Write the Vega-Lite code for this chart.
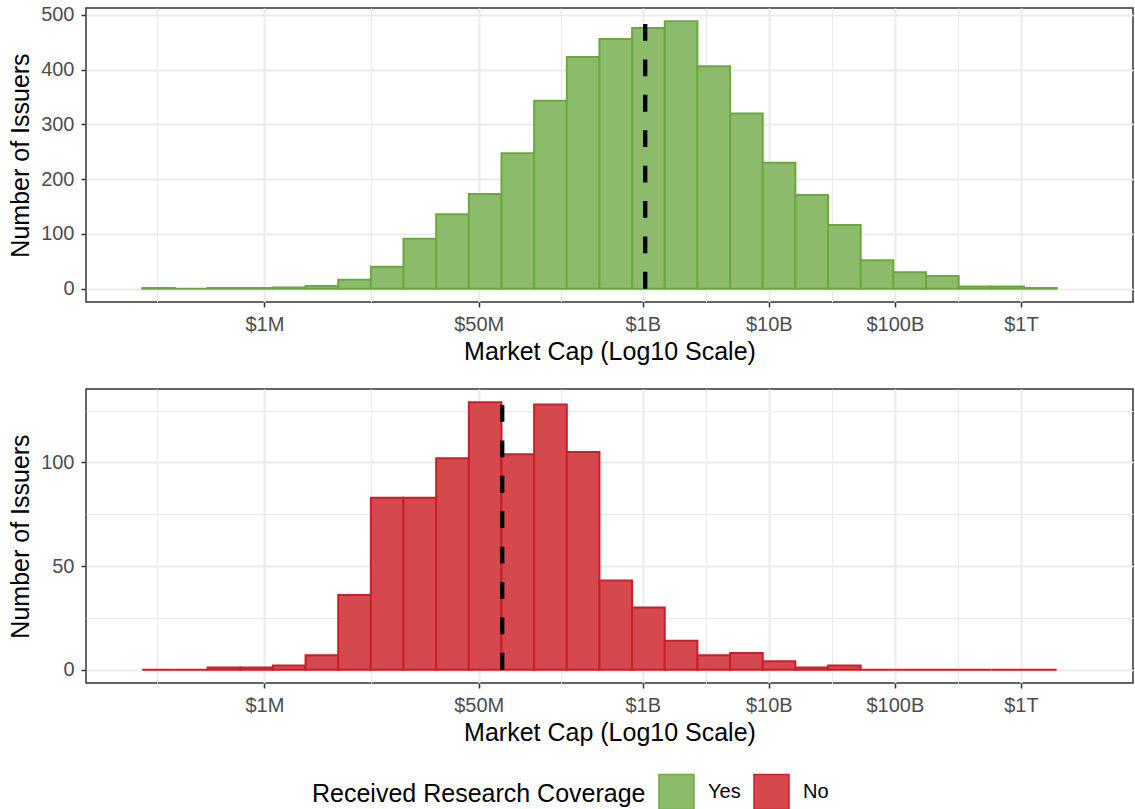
{
  "$schema": "https://vega.github.io/schema/vega-lite/v6.json",
  "padding": {"left": 7, "top": 4, "right": 0, "bottom": 0},
  "background": "white",
  "config": {
    "font": "Liberation Sans",
    "view": {"stroke": "#333333", "strokeWidth": 1.5},
    "axis": {
      "labelFontSize": 20,
      "labelColor": "#4D4D4D",
      "titleFontSize": 25,
      "titleFontWeight": "normal",
      "titleColor": "#000000",
      "tickColor": "#333333",
      "tickSize": 5,
      "tickWidth": 1.5,
      "domain": false,
      "gridColor": "#EBEBEB",
      "labelOverlap": false,
      "labelFlush": false,
      "labelBound": false
    },
    "axisX": {"labelPadding": 7, "titlePadding": 5},
    "axisY": {"labelPadding": 7, "titlePadding": 7}
  },
  "datasets": {
    "bins": [
      {"coverage": "Yes", "x0": 5.031, "x1": 5.290, "n": 1},
      {"coverage": "Yes", "x0": 5.290, "x1": 5.549, "n": 0},
      {"coverage": "Yes", "x0": 5.549, "x1": 5.808, "n": 1},
      {"coverage": "Yes", "x0": 5.808, "x1": 6.067, "n": 1},
      {"coverage": "Yes", "x0": 6.067, "x1": 6.326, "n": 2},
      {"coverage": "Yes", "x0": 6.326, "x1": 6.585, "n": 5},
      {"coverage": "Yes", "x0": 6.585, "x1": 6.844, "n": 16},
      {"coverage": "Yes", "x0": 6.844, "x1": 7.103, "n": 40},
      {"coverage": "Yes", "x0": 7.103, "x1": 7.362, "n": 91},
      {"coverage": "Yes", "x0": 7.362, "x1": 7.621, "n": 136},
      {"coverage": "Yes", "x0": 7.621, "x1": 7.880, "n": 173},
      {"coverage": "Yes", "x0": 7.880, "x1": 8.139, "n": 247},
      {"coverage": "Yes", "x0": 8.139, "x1": 8.398, "n": 343},
      {"coverage": "Yes", "x0": 8.398, "x1": 8.657, "n": 423},
      {"coverage": "Yes", "x0": 8.657, "x1": 8.916, "n": 456},
      {"coverage": "Yes", "x0": 8.916, "x1": 9.175, "n": 476},
      {"coverage": "Yes", "x0": 9.175, "x1": 9.434, "n": 488},
      {"coverage": "Yes", "x0": 9.434, "x1": 9.693, "n": 406},
      {"coverage": "Yes", "x0": 9.693, "x1": 9.952, "n": 320},
      {"coverage": "Yes", "x0": 9.952, "x1": 10.211, "n": 230},
      {"coverage": "Yes", "x0": 10.211, "x1": 10.470, "n": 171},
      {"coverage": "Yes", "x0": 10.470, "x1": 10.729, "n": 116},
      {"coverage": "Yes", "x0": 10.729, "x1": 10.988, "n": 52},
      {"coverage": "Yes", "x0": 10.988, "x1": 11.247, "n": 30},
      {"coverage": "Yes", "x0": 11.247, "x1": 11.506, "n": 23},
      {"coverage": "Yes", "x0": 11.506, "x1": 11.765, "n": 4},
      {"coverage": "Yes", "x0": 11.765, "x1": 12.024, "n": 4},
      {"coverage": "Yes", "x0": 12.024, "x1": 12.283, "n": 1},
      {"coverage": "No", "x0": 5.031, "x1": 5.290, "n": 0},
      {"coverage": "No", "x0": 5.290, "x1": 5.549, "n": 0},
      {"coverage": "No", "x0": 5.549, "x1": 5.808, "n": 1},
      {"coverage": "No", "x0": 5.808, "x1": 6.067, "n": 1},
      {"coverage": "No", "x0": 6.067, "x1": 6.326, "n": 2},
      {"coverage": "No", "x0": 6.326, "x1": 6.585, "n": 7},
      {"coverage": "No", "x0": 6.585, "x1": 6.844, "n": 36},
      {"coverage": "No", "x0": 6.844, "x1": 7.103, "n": 83},
      {"coverage": "No", "x0": 7.103, "x1": 7.362, "n": 83},
      {"coverage": "No", "x0": 7.362, "x1": 7.621, "n": 102},
      {"coverage": "No", "x0": 7.621, "x1": 7.880, "n": 129},
      {"coverage": "No", "x0": 7.880, "x1": 8.139, "n": 104},
      {"coverage": "No", "x0": 8.139, "x1": 8.398, "n": 128},
      {"coverage": "No", "x0": 8.398, "x1": 8.657, "n": 105},
      {"coverage": "No", "x0": 8.657, "x1": 8.916, "n": 43},
      {"coverage": "No", "x0": 8.916, "x1": 9.175, "n": 30},
      {"coverage": "No", "x0": 9.175, "x1": 9.434, "n": 14},
      {"coverage": "No", "x0": 9.434, "x1": 9.693, "n": 7},
      {"coverage": "No", "x0": 9.693, "x1": 9.952, "n": 8},
      {"coverage": "No", "x0": 9.952, "x1": 10.211, "n": 4},
      {"coverage": "No", "x0": 10.211, "x1": 10.470, "n": 1},
      {"coverage": "No", "x0": 10.470, "x1": 10.729, "n": 2},
      {"coverage": "No", "x0": 10.729, "x1": 10.988, "n": 0},
      {"coverage": "No", "x0": 10.988, "x1": 11.247, "n": 0},
      {"coverage": "No", "x0": 11.247, "x1": 11.506, "n": 0},
      {"coverage": "No", "x0": 11.506, "x1": 11.765, "n": 0},
      {"coverage": "No", "x0": 11.765, "x1": 12.024, "n": 0},
      {"coverage": "No", "x0": 12.024, "x1": 12.283, "n": 0}
    ],
    "medians": [
      {"coverage": "Yes", "median": 9.02, "n": 0},
      {"coverage": "Yes", "median": 9.02, "n": 488},
      {"coverage": "No", "median": 7.886, "n": 0},
      {"coverage": "No", "median": 7.886, "n": 129}
    ]
  },
  "resolve": {"scale": {"x": "independent", "y": "independent"}},
  "spacing": 23,
  "vconcat": [
    {
      "width": 1047,
      "height": 294,
      "layer": [
        {
          "data": {"name": "bins"},
          "transform": [{"filter": "datum.coverage == 'Yes'"}],
          "mark": {"type": "bar", "orient": "vertical", "strokeWidth": 2},
          "encoding": {
            "x": {"field": "x0", "type": "quantitative",
              "scale": {"domain": [4.6245, 12.849], "nice": false, "zero": false},
              "axis": {"title": "Market Cap (Log10 Scale)",
                "values": [5.15, 6, 6.849, 7.69897, 8.349, 9, 9.5, 10, 10.5, 11, 11.5, 12],
                "labelExpr": "datum.value == 6 ? '$1M' : datum.value == 7.69897 ? '$50M' : datum.value == 9 ? '$1B' : datum.value == 10 ? '$10B' : datum.value == 11 ? '$100B' : datum.value == 12 ? '$1T' : ''",
                "gridWidth": {"condition": {"test": "indexof([6, 7.69897, 9, 10, 11, 12], datum.value) >= 0", "value": 2}, "value": 1},
                "tickOpacity": {"condition": {"test": "indexof([6, 7.69897, 9, 10, 11, 12], datum.value) >= 0", "value": 1}, "value": 0}}},
            "x2": {"field": "x1"},
            "y": {"field": "n", "type": "quantitative",
              "scale": {"domain": [-24.4, 512.4], "nice": false, "zero": false},
              "axis": {"title": "Number of Issuers",
                "values": [0, 50, 100, 150, 200, 250, 300, 350, 400, 450, 500],
                "labelExpr": "datum.value % 100 == 0 ? datum.label : ''",
                "gridWidth": {"condition": {"test": "datum.value % 100 == 0", "value": 2}, "value": 1},
                "tickOpacity": {"condition": {"test": "datum.value % 100 == 0", "value": 1}, "value": 0}}},
            "fill": {"field": "coverage", "type": "nominal",
              "scale": {"domain": ["Yes", "No"], "range": ["#8DBB6C", "#D5484E"]},
              "legend": {"title": "Received Research Coverage", "orient": "none", "legendX": 226, "legendY": 765.5,
                "direction": "horizontal", "titleOrient": "left", "titleFontSize": 25, "titleFontWeight": "normal",
                "titleColor": "#000000", "titlePadding": 12, "titleLimit": 600, "labelLimit": 200, "labelFontSize": 20, "labelColor": "#000000",
                "symbolType": "square", "symbolSize": 1225, "symbolStrokeColor": "#000000", "symbolStrokeWidth": 1.5,
                "symbolOpacity": 1, "labelOffset": 13, "columnPadding": 10,
                "encode": {"symbols": {"update": {"stroke": {"value": "#000000"}, "strokeWidth": {"value": 1.5}}}}}},
            "stroke": {"field": "coverage", "type": "nominal",
              "scale": {"domain": ["Yes", "No"], "range": ["#6AAA3C", "#CB1F27"]}, "legend": null}
          }
        },
        {
          "data": {"name": "medians"},
          "transform": [{"filter": "datum.coverage == 'Yes'"}],
          "mark": {"type": "line", "color": "#000000", "strokeWidth": 4.3, "strokeDash": [16.8, 18.6], "strokeCap": "butt"},
          "encoding": {
            "x": {"field": "median", "type": "quantitative"},
            "y": {"field": "n", "type": "quantitative"},
            "order": {"field": "n", "type": "quantitative"}
          }
        }
      ]
    },
    {
      "width": 1047,
      "height": 294,
      "layer": [
        {
          "data": {"name": "bins"},
          "transform": [{"filter": "datum.coverage == 'No'"}],
          "mark": {"type": "bar", "orient": "vertical", "strokeWidth": 2},
          "encoding": {
            "x": {"field": "x0", "type": "quantitative",
              "scale": {"domain": [4.6245, 12.849], "nice": false, "zero": false},
              "axis": {"title": "Market Cap (Log10 Scale)",
                "values": [5.15, 6, 6.849, 7.69897, 8.349, 9, 9.5, 10, 10.5, 11, 11.5, 12],
                "labelExpr": "datum.value == 6 ? '$1M' : datum.value == 7.69897 ? '$50M' : datum.value == 9 ? '$1B' : datum.value == 10 ? '$10B' : datum.value == 11 ? '$100B' : datum.value == 12 ? '$1T' : ''",
                "gridWidth": {"condition": {"test": "indexof([6, 7.69897, 9, 10, 11, 12], datum.value) >= 0", "value": 2}, "value": 1},
                "tickOpacity": {"condition": {"test": "indexof([6, 7.69897, 9, 10, 11, 12], datum.value) >= 0", "value": 1}, "value": 0}}},
            "x2": {"field": "x1"},
            "y": {"field": "n", "type": "quantitative",
              "scale": {"domain": [-6.45, 135.45], "nice": false, "zero": false},
              "axis": {"title": "Number of Issuers",
                "values": [0, 25, 50, 75, 100, 125],
                "labelExpr": "datum.value % 50 == 0 ? datum.label : ''",
                "gridWidth": {"condition": {"test": "datum.value % 50 == 0", "value": 2}, "value": 1},
                "tickOpacity": {"condition": {"test": "datum.value % 50 == 0", "value": 1}, "value": 0}}},
            "fill": {"field": "coverage", "type": "nominal",
              "scale": {"domain": ["Yes", "No"], "range": ["#8DBB6C", "#D5484E"]},
              "legend": {"title": "Received Research Coverage", "orient": "none", "legendX": 226, "legendY": 765.5,
                "direction": "horizontal", "titleOrient": "left", "titleFontSize": 25, "titleFontWeight": "normal",
                "titleColor": "#000000", "titlePadding": 12, "titleLimit": 600, "labelLimit": 200, "labelFontSize": 20, "labelColor": "#000000",
                "symbolType": "square", "symbolSize": 1225, "symbolStrokeColor": "#000000", "symbolStrokeWidth": 1.5,
                "symbolOpacity": 1, "labelOffset": 13, "columnPadding": 10,
                "encode": {"symbols": {"update": {"stroke": {"value": "#000000"}, "strokeWidth": {"value": 1.5}}}}}},
            "stroke": {"field": "coverage", "type": "nominal",
              "scale": {"domain": ["Yes", "No"], "range": ["#6AAA3C", "#CB1F27"]}, "legend": null}
          }
        },
        {
          "data": {"name": "medians"},
          "transform": [{"filter": "datum.coverage == 'No'"}],
          "mark": {"type": "line", "color": "#000000", "strokeWidth": 4.3, "strokeDash": [16.8, 18.6], "strokeCap": "butt"},
          "encoding": {
            "x": {"field": "median", "type": "quantitative"},
            "y": {"field": "n", "type": "quantitative"},
            "order": {"field": "n", "type": "quantitative"}
          }
        }
      ]
    }
  ]
}
